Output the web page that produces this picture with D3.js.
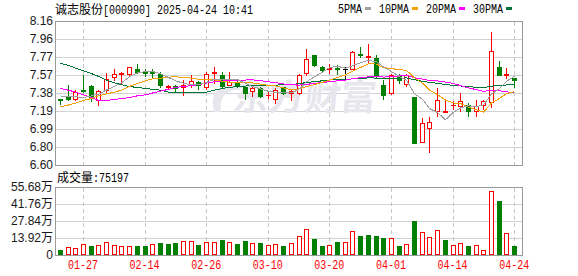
<!DOCTYPE html>
<html><head><meta charset="utf-8">
<script src="https://cdn.jsdelivr.net/npm/d3@7/dist/d3.min.js"></script>
<style>body{margin:0;background:#fff}svg{display:block}</style>
</head><body><svg id="c" width="578" height="276"></svg>
<script>
// ---------- data ----------
const stockName = "诚志股份", stockCode = "[000990]", stamp = " 2025-04-24 10:41";
const dates = ["01-22","01-23","01-24","01-27","02-05","02-06","02-07","02-10","02-11","02-12",
"02-13","02-14","02-17","02-18","02-19","02-20","02-21","02-24","02-25","02-26",
"02-27","02-28","03-03","03-04","03-05","03-06","03-07","03-10","03-11","03-12",
"03-13","03-14","03-17","03-18","03-19","03-20","03-21","03-24","03-25","03-26",
"03-27","03-28","03-31","04-01","04-02","04-03","04-07","04-08","04-09","04-10",
"04-11","04-14","04-15","04-16","04-17","04-18","04-21","04-22","04-23","04-24"];
const open = [7.31,7.34,7.31,7.41,7.46,7.30,7.41,7.55,7.59,7.59,
7.64,7.61,7.61,7.59,7.44,7.46,7.44,7.47,7.50,7.44,
7.60,7.58,7.47,7.50,7.45,7.40,7.43,7.36,7.32,7.44,
7.38,7.38,7.60,7.79,7.66,7.64,7.65,7.64,7.64,7.80,
7.77,7.76,7.47,7.38,7.56,7.48,7.34,6.85,7.00,7.19,
7.17,7.25,7.24,7.25,7.19,7.25,7.28,7.66,7.58,7.54];
const high = [7.32,7.47,7.41,7.57,7.47,7.41,7.60,7.64,7.61,7.66,
7.69,7.64,7.64,7.61,7.47,7.47,7.52,7.58,7.51,7.61,
7.66,7.61,7.61,7.51,7.46,7.44,7.44,7.40,7.43,7.45,
7.41,7.59,7.86,7.79,7.67,7.69,7.68,7.66,7.84,7.88,
7.91,7.79,7.52,7.59,7.59,7.59,7.34,7.11,7.12,7.43,
7.30,7.29,7.38,7.27,7.30,7.30,8.04,7.73,7.65,7.54];
const low = [7.26,7.30,7.30,7.39,7.29,7.25,7.38,7.52,7.49,7.58,
7.60,7.56,7.55,7.45,7.42,7.40,7.36,7.45,7.42,7.42,
7.49,7.45,7.47,7.45,7.31,7.35,7.34,7.33,7.27,7.37,
7.30,7.37,7.58,7.67,7.61,7.60,7.59,7.52,7.64,7.77,
7.72,7.55,7.31,7.37,7.49,7.46,6.84,6.85,6.74,7.13,
7.17,7.21,7.18,7.13,7.13,7.21,7.23,7.57,7.54,7.45];
const close = [7.30,7.31,7.39,7.40,7.34,7.40,7.53,7.59,7.60,7.66,
7.61,7.60,7.60,7.47,7.46,7.43,7.47,7.51,7.47,7.59,
7.61,7.46,7.50,7.47,7.38,7.43,7.35,7.36,7.41,7.38,
7.40,7.57,7.75,7.68,7.63,7.65,7.64,7.64,7.82,7.79,
7.78,7.56,7.36,7.57,7.52,7.57,6.84,7.06,7.07,7.30,
7.18,7.25,7.29,7.19,7.24,7.29,7.84,7.57,7.59,7.52];
const volume = [41000,63000,55000,87600,73700,81900,109000,81900,73700,73700,
73700,73700,87600,98300,90000,98300,117000,114600,81900,109000,
104000,122800,104000,90000,114600,95500,95500,81900,87600,73700,
95500,155600,210000,131000,73700,81900,106400,104000,196500,155600,
163800,155600,139200,139200,73700,87600,278400,185600,147400,202000,
122800,81900,95500,73700,81900,38500,521300,442200,177600,75197];
// moving-average values for days whose window starts before the first shown day
const ma5Lead = [7.34,7.34,7.34,7.33];
const ma10Lead = [7.23,7.25,7.27,7.30,7.32,7.35,7.37,7.39,7.41];
const ma20Lead = [7.43,7.41,7.39,7.36,7.33,7.30,7.30,7.31,7.32,7.33,7.35,7.36,7.38,7.40,7.42,7.44,7.45,7.46,7.47];
const ma30Lead = [7.70,7.68,7.65,7.62,7.59,7.56,7.52,7.49,7.47,7.45,7.44,7.43,7.42,7.41,7.39,7.385,7.39,7.39,7.39,7.39,
7.41,7.43,7.44,7.45,7.455,7.46,7.46,7.46,7.465];
const maNames = ["5PMA","10PMA","20PMA","30PMA"];
const maPeriods = [5,10,20,30];
const priceTicks = [8.16,7.965,7.77,7.575,7.38,7.185,6.99,6.795,6.60];
const priceTickLabels = ["8.16","7.96","7.77","7.57","7.38","7.19","6.99","6.80","6.60"];
const volTicks = [556800,417600,278400,139200,0];
const volTickLabels = ["55.68万","41.76万","27.84万","13.92万","0"];
const xTickDates = ["01-27","02-14","02-26","03-10","03-20","04-01","04-14","04-24"];
const volTitle = "成交量", lastVol = ":75197";
const watermark = "东方财富";

// ---------- layout / style ----------
const L = 55, R = 522, T = 21, B = 165, VT = 187, VB = 255;
const RED = "#ff0000", GREEN = "#008000";
const maColors = ["#a0a0a0","#f2a100","#ff00ff","#00753a"];
const MONO = "'Liberation Mono','DejaVu Sans Mono',monospace";
const CJK = "'Noto Sans CJK SC',sans-serif";
const SANS = "'Liberation Sans',Arial,'Noto Sans CJK SC',sans-serif";

const svg = d3.select("#c");
const x = d3.scaleBand().domain(dates).range([56, 518]);
const cx = i => Math.round(x(dates[i]) + x.bandwidth() / 2);
const y = d3.scaleLinear().domain([6.60, 8.16]).range([B, T]);
const yv = d3.scaleLinear().domain([0, 556800]).range([VB, VT]);
const px = v => Math.round(v) + 0.5;

const idx = d3.range(dates.length);
const dir = idx.map(i => i === 0 ? Math.sign(close[0] - open[0]) : Math.sign(close[i] - close[i - 1]));

// ---------- grid ----------
const grid = svg.append("g").attr("shape-rendering", "crispEdges");
grid.selectAll(".hp").data(priceTicks.slice(1, -1)).join("line")
  .attr("x1", L).attr("x2", R).attr("y1", d => px(y(d))).attr("y2", d => px(y(d)))
  .attr("stroke", "#d2d2d2");
grid.selectAll(".hv").data(volTicks.slice(1, -1)).join("line").attr("class","hv")
  .attr("x1", L).attr("x2", R).attr("y1", d => px(yv(d))).attr("y2", d => px(yv(d)))
  .attr("stroke", "#d2d2d2");
const tickIdx = xTickDates.map(d => dates.indexOf(d));
[[T + 1, B], [VT + 1, VB]].forEach(([a, b]) => {
  grid.append("g").selectAll("line").data(tickIdx).join("line")
    .attr("x1", i => cx(i) + 0.5).attr("x2", i => cx(i) + 0.5)
    .attr("y1", a).attr("y2", b)
    .attr("stroke", "#c8c8c8").attr("stroke-dasharray", "4,3");
});

// ---------- watermark ----------
const wm = svg.append("g").attr("fill", "#e6e6ec");
wm.append("path").attr("d", "M236,82 C222,82 212,92 213,104 L214,112 L221,112 C219,100 224,92 234,90 L240,90 Z");
wm.append("text").attr("x", 232).attr("y", 110).attr("font-family", CJK).attr("font-weight", "bold")
  .attr("font-size", 36).attr("transform", "skewX(-6) translate(11,0)").text(watermark);

// ---------- candles ----------
const cg = svg.append("g").attr("shape-rendering", "crispEdges");
idx.forEach(i => {
  const o = open[i], c = close[i], h = high[i], l = low[i];
  const X = cx(i);
  const top = Math.round(y(Math.max(o, c))), bot = Math.round(y(Math.min(o, c)));
  const yh = Math.round(y(h)), yl = Math.round(y(l));
  let col;
  if (c > o) col = RED; else if (c < o) col = GREEN; else col = dir[i] > 0 ? RED : dir[i] < 0 ? GREEN : "#000";
  if (c > o) {
    if (yh < top) cg.append("line").attr("x1", X + .5).attr("x2", X + .5).attr("y1", yh).attr("y2", top).attr("stroke", col);
    if (yl > bot) cg.append("line").attr("x1", X + .5).attr("x2", X + .5).attr("y1", bot + 1).attr("y2", yl + 1).attr("stroke", col);
    cg.append("rect").attr("x", X - 1.5).attr("y", top + .5).attr("width", 4).attr("height", Math.max(bot - top, 1))
      .attr("fill", "#fff").attr("stroke", col);
  } else if (c < o) {
    cg.append("line").attr("x1", X + .5).attr("x2", X + .5).attr("y1", yh).attr("y2", yl + 1).attr("stroke", col);
    cg.append("rect").attr("x", X - 2).attr("y", top).attr("width", 5).attr("height", Math.max(bot - top + 1, 2)).attr("fill", col);
  } else {
    cg.append("line").attr("x1", X + .5).attr("x2", X + .5).attr("y1", yh).attr("y2", yl + 1).attr("stroke", col);
    cg.append("line").attr("x1", X - 2).attr("x2", X + 3).attr("y1", top + .5).attr("y2", top + .5).attr("stroke", col);
  }
});

// ---------- moving averages ----------
const leads = [ma5Lead, ma10Lead, ma20Lead, ma30Lead];
const maSeries = maPeriods.map((n, k) => idx.map(i => i >= n - 1 ? d3.mean(close.slice(i - n + 1, i + 1)) : leads[k][i]));
const line = d3.line().x((v, i) => cx(i) + 0.5).y(v => y(v));
const mg = svg.append("g").attr("fill", "none").attr("shape-rendering", "crispEdges");
[3, 2, 1, 0].forEach(k => mg.append("path").attr("d", line(maSeries[k])).attr("stroke", maColors[k]).attr("stroke-width", 1));

// ---------- volume bars ----------
const vg = svg.append("g").attr("shape-rendering", "crispEdges");
idx.forEach(i => {
  const X = cx(i), top = Math.round(yv(volume[i]));
  if (dir[i] >= 0) {
    vg.append("rect").attr("x", X - 1.5).attr("y", top + .5).attr("width", 4).attr("height", Math.max(VB - 1 - top, 1))
      .attr("fill", "#fff").attr("stroke", RED);
  } else {
    vg.append("rect").attr("x", X - 2).attr("y", top).attr("width", 5).attr("height", VB - top).attr("fill", GREEN);
  }
});

// ---------- frames ----------
const fg = svg.append("g").attr("fill", "none").attr("stroke", "#9a9a9a").attr("shape-rendering", "crispEdges");
fg.append("rect").attr("x", L + .5).attr("y", T + .5).attr("width", R - L).attr("height", B - T);
fg.append("rect").attr("x", L + .5).attr("y", VT + .5).attr("width", R - L).attr("height", VB - VT);

// ---------- axes ----------
const ya = svg.append("g").attr("transform", `translate(${L},0)`)
  .call(d3.axisLeft(y).tickValues(priceTicks).tickFormat((d, i) => priceTickLabels[i]).tickSize(0).tickPadding(2));
const va = svg.append("g").attr("transform", `translate(${L},0)`)
  .call(d3.axisLeft(yv).tickValues(volTicks).tickFormat((d, i) => volTickLabels[i]).tickSize(0).tickPadding(2));
[ya, va].forEach(g => {
  g.select(".domain").remove();
  g.selectAll("text").attr("font-family", SANS).attr("font-size", 12).attr("fill", "#1a1a1a");
});
const xa = svg.append("g").attr("transform", `translate(0,${VB})`)
  .call(d3.axisBottom(x).tickValues(xTickDates).tickSize(0).tickPadding(5));
xa.select(".domain").remove();
xa.selectAll("text").attr("font-family", MONO).attr("font-size", 12).attr("fill", RED)
  .attr("textLength", 30).attr("lengthAdjust", "spacingAndGlyphs");

// ---------- titles & legend ----------
svg.append("text").attr("x", 55).attr("y", 14).attr("font-family", CJK).attr("font-size", 12).attr("fill", "#000").text(stockName);
svg.append("text").attr("x", 103).attr("y", 13.5).attr("font-family", MONO).attr("font-size", 12).attr("fill", "#000")
  .attr("textLength", (stockCode + stamp).length * 6).attr("lengthAdjust", "spacingAndGlyphs").text(stockCode + stamp);
svg.append("text").attr("x", 57).attr("y", 182).attr("font-family", CJK).attr("font-size", 12).attr("fill", "#000").text(volTitle);
svg.append("text").attr("x", 93).attr("y", 181.5).attr("font-family", MONO).attr("font-size", 12).attr("fill", "#000")
  .attr("textLength", lastVol.length * 6).attr("lengthAdjust", "spacingAndGlyphs").text(lastVol);
let lx = 338;
maNames.forEach((nm, k) => {
  const w = nm.length * 6;
  svg.append("text").attr("x", lx).attr("y", 12.5).attr("font-family", MONO).attr("font-size", 12).attr("fill", "#000")
    .attr("textLength", w).attr("lengthAdjust", "spacingAndGlyphs").text(nm);
  svg.append("rect").attr("x", lx + w + 3).attr("y", 7).attr("width", 6).attr("height", 3).attr("fill", maColors[k]);
  lx += w + 3 + 6 + 8;
});
</script></body></html>
